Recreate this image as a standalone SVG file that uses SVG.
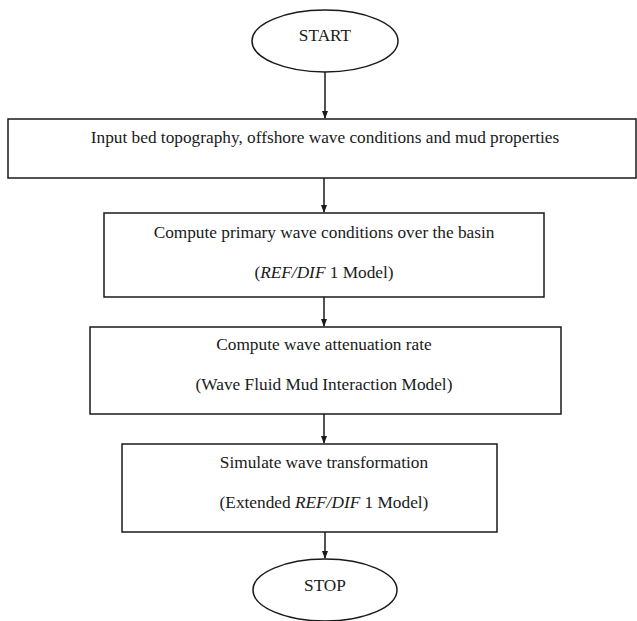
<svg xmlns="http://www.w3.org/2000/svg" width="637" height="621" viewBox="0 0 637 621">
<style>
.shape{fill:#fff;stroke:#1a1a1a;stroke-width:1.5}
.t{font-family:"Liberation Serif","Times New Roman",serif;font-size:17.3px;fill:#1a1a1a;text-anchor:middle}
.i{font-style:italic}
.c{stroke:#1a1a1a;stroke-width:1.5;fill:none}
</style>
<defs>
<marker id="ah" markerWidth="8" markerHeight="12" refX="7" refY="4" orient="auto" markerUnits="userSpaceOnUse" viewBox="0 0 8 8">
<path d="M0,1 L8,4 L0,7 Z" fill="#1a1a1a"/>
</marker>
</defs>
<rect width="637" height="621" fill="#fff"/>
<g id="connectors">
<line class="c" x1="325" y1="72" x2="325" y2="118" marker-end="url(#ah)"/>
<line class="c" x1="324" y1="178" x2="324" y2="212" marker-end="url(#ah)"/>
<line class="c" x1="324" y1="297" x2="324" y2="326" marker-end="url(#ah)"/>
<line class="c" x1="324" y1="414" x2="324" y2="443" marker-end="url(#ah)"/>
<line class="c" x1="325" y1="532" x2="325" y2="558" marker-end="url(#ah)"/>
</g>
<g id="start">
<ellipse class="shape" cx="325" cy="41" rx="73" ry="31"/>
<text class="t" x="325" y="41">START</text>
</g>
<g id="input">
<rect class="shape" x="8" y="119" width="628" height="59"/>
<text class="t" x="325" y="143">Input bed topography, offshore wave conditions and mud properties</text>
</g>
<g id="primary">
<rect class="shape" x="104" y="213" width="440" height="84"/>
<text class="t" x="324" y="238">Compute primary wave conditions over the basin</text>
<text class="t" x="324" y="278">(<tspan class="i">REF/DIF</tspan> 1 Model)</text>
</g>
<g id="attenuation">
<rect class="shape" x="90" y="327" width="471" height="87"/>
<text class="t" x="324" y="350">Compute wave attenuation rate</text>
<text class="t" x="324" y="390">(Wave Fluid Mud Interaction Model)</text>
</g>
<g id="simulate">
<rect class="shape" x="122" y="444" width="375" height="88"/>
<text class="t" x="324" y="468">Simulate wave transformation</text>
<text class="t" x="324" y="508">(Extended <tspan class="i">REF/DIF</tspan> 1 Model)</text>
</g>
<g id="stop">
<ellipse class="shape" cx="325" cy="590" rx="72" ry="31"/>
<text class="t" x="325" y="591">STOP</text>
</g>
</svg>
